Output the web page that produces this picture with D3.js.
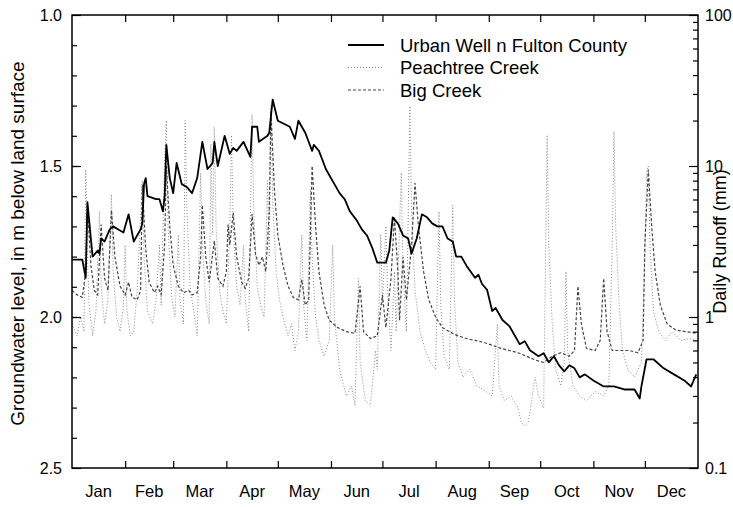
<!DOCTYPE html>
<html>
<head>
<meta charset="utf-8">
<script src="https://cdn.jsdelivr.net/npm/d3@7"></script>
<style>
  body { margin: 0; background: #fff; }
  svg { font-family: "Liberation Sans", Arial, sans-serif; }
</style>
</head>
<body>
<svg width="733" height="507"></svg>
<script>
// months
const months = ['Jan','Feb','Mar','Apr','May','Jun','Jul','Aug','Sep','Oct','Nov','Dec']
const monthStart = [0,31,59,90,120,151,181,212,243,273,304,334,365]

// groundwater level (day of year, m below land surface)
const wellDay = [0,6,8,9,12,15,16,17,19,22,24,27,30,33,36,40,41,42,43,44,49,51,53,54,55,57,59,61,64,67,70,73,76,79,82,83,85,89,92,94,96,100,104,105,108,109,114,115,117,120,127,130,132,136,140,141,144,148,152,156,159,162,166,169,172,175,178,183,185,187,190,193,196,198,201,204,207,210,213,216,219,222,224,227,230,235,237,239,242,245,247,251,255,261,264,267,272,275,278,281,284,287,290,293,296,299,304,310,316,322,328,331,332,335,339,345,351,357,361,364]
const wellLevel = [1.81,1.81,1.87,1.62,1.80,1.78,1.79,1.74,1.75,1.71,1.70,1.71,1.72,1.66,1.75,1.71,1.69,1.56,1.54,1.60,1.61,1.61,1.65,1.60,1.43,1.54,1.59,1.49,1.56,1.57,1.59,1.54,1.42,1.51,1.49,1.42,1.50,1.40,1.46,1.44,1.45,1.42,1.47,1.37,1.37,1.42,1.40,1.39,1.28,1.35,1.37,1.41,1.35,1.39,1.45,1.43,1.45,1.51,1.55,1.59,1.61,1.65,1.68,1.71,1.73,1.77,1.82,1.82,1.78,1.67,1.69,1.73,1.74,1.79,1.74,1.66,1.67,1.69,1.70,1.70,1.74,1.75,1.80,1.80,1.83,1.87,1.86,1.89,1.91,1.98,1.97,2.01,2.03,2.09,2.08,2.11,2.13,2.12,2.15,2.13,2.16,2.18,2.16,2.17,2.20,2.19,2.21,2.23,2.23,2.24,2.24,2.27,2.23,2.14,2.14,2.17,2.19,2.21,2.23,2.19]

// Peachtree Creek daily runoff (mm)
const peachDay = [0,3,5,7,8,9,10,12,14,16,17,19,21,23,24,26,28,30,31,32,34,36,38,41,42,44,47,49,51,52,54,55,56,58,60,62,63,65,66,67,69,71,73,75,76,78,80,81,82,83,84,86,88,90,92,93,94,96,98,100,101,103,105,106,108,110,112,114,115,116,117,119,121,123,126,128,130,132,134,135,137,139,140,142,144,147,150,152,153,156,160,163,165,167,168,171,174,177,178,180,181,183,184,186,188,189,192,193,195,197,198,200,203,206,209,212,214,215,217,220,222,223,225,228,232,236,240,245,248,249,252,256,260,262,264,266,268,270,272,275,277,278,280,282,285,287,288,289,292,296,300,305,310,313,315,316,317,319,321,324,328,332,334,335,336,337,339,342,346,350,355,360,364]
const peachRunoff = [0.9,0.75,1.0,0.8,9.5,2.5,1.2,0.75,1.1,5,1.6,0.9,1.3,6.5,2.0,1.0,0.8,1.2,3,1.1,0.75,0.8,1.5,8,2.5,1.1,0.9,1.3,3,1.2,11,20,4,1.4,1.0,3.5,1.3,0.9,20,5,1.5,1.1,0.75,9,3,1.3,0.9,14,3.5,18,4,1.5,1.1,0.9,4,16,4,1.6,1.2,3,1.3,0.8,22,5,1.6,1.2,1.0,8,2.5,25,6,2,1.3,1.0,0.75,0.9,0.6,0.8,3.5,1.2,0.7,7,2.5,1.0,0.7,0.55,0.7,3,1.0,0.45,0.3,0.35,0.26,1.8,0.5,0.28,0.26,0.6,0.45,3.5,1.2,4,1.5,0.6,2,0.8,9,2,0.8,25,5,1.5,0.8,0.6,0.5,0.45,5,1.2,0.55,0.45,5.5,1.3,0.5,0.4,0.45,0.35,0.33,0.3,0.9,0.35,0.28,0.3,0.25,0.2,0.19,0.2,0.28,0.4,0.3,0.25,16,3,0.9,0.45,0.35,0.5,2,0.6,0.35,0.3,0.28,0.32,0.3,0.35,3,17,4,1.2,0.6,0.45,0.4,0.5,2.5,9,10,3,1.1,0.8,0.7,0.8,0.7,0.72,0.7]

// Big Creek daily runoff (mm)
const bigDay = [0,3,6,8,9,11,13,15,17,19,21,23,25,28,31,33,35,38,40,41,43,45,48,50,52,54,55,57,59,62,65,68,70,73,75,76,78,80,83,85,88,90,91,92,94,96,99,101,103,105,107,109,111,113,115,116,118,120,123,126,129,132,134,136,138,140,142,144,147,150,155,160,165,168,170,174,178,181,183,186,188,190,191,193,195,198,200,202,205,208,212,216,220,225,230,235,240,245,250,255,260,265,270,275,280,285,290,293,295,297,300,305,308,310,312,315,320,325,330,333,334,336,338,340,343,347,352,358,364]
const bigRunoff = [1.5,1.4,1.35,2,5.5,2.2,1.5,1.4,4.1,1.8,1.5,5.1,2.5,1.6,1.4,1.7,1.35,1.3,1.5,7.5,2.8,1.7,1.45,1.6,1.4,3,10,4,2.2,1.6,1.45,1.5,1.4,1.45,2.5,5.5,2.5,1.7,3.2,1.8,1.6,2,4.1,3,4.9,2.5,1.7,1.55,1.8,4.8,2.6,2.2,2.5,2,5,23,7,3.5,2.2,1.6,1.35,1.3,1.77,1.2,1.3,10,4,2,1.2,0.95,0.85,0.8,0.78,1.6,0.8,0.72,0.75,1.4,0.85,1.8,4.6,2,0.95,2.5,1.3,3,7.7,4,2,1.3,1.0,0.85,0.8,0.75,0.72,0.7,0.68,0.65,0.62,0.6,0.58,0.55,0.52,0.5,0.55,0.58,0.55,0.6,1.6,0.9,0.62,0.6,0.7,1.8,0.8,0.6,0.6,0.6,0.58,0.7,3,9.4,4,2,1.2,0.9,0.82,0.8,0.78]

const levelTicks = [1.0, 1.5, 2.0, 2.5]
const runoffTicks = [0.1, 1, 10, 100]

const margin = {top: 15, right: 35, bottom: 39, left: 72}
const width = 733
const height = 507
const iw = width - margin.left - margin.right
const ih = height - margin.top - margin.bottom

const svg = d3.select('svg')
const g = svg.append('g').attr('transform', `translate(${margin.left},${margin.top})`)

const x = d3.scaleLinear().domain([0, 365]).range([0, iw])
const yL = d3.scaleLinear().domain([1.0, 2.5]).range([0, ih])
const yR = d3.scaleLog().domain([0.1, 100]).range([ih, 0])

// series lines
const line = (ys) => d3.line().x(d => x(d[0])).y(d => ys(d[1]))

const peach = d3.zip(peachDay, peachRunoff)
const big = d3.zip(bigDay, bigRunoff)
const well = d3.zip(wellDay, wellLevel)

g.append('path').attr('d', line(yR)(peach))
  .attr('fill', 'none').attr('stroke', '#8a8a8a').attr('stroke-width', 1)
  .attr('stroke-dasharray', '1,2')
g.append('path').attr('d', line(yR)(big))
  .attr('fill', 'none').attr('stroke', '#444').attr('stroke-width', 1.2)
  .attr('stroke-dasharray', '3,2')
g.append('path').attr('d', line(yL)(well))
  .attr('fill', 'none').attr('stroke', '#000').attr('stroke-width', 1.8)
  .attr('stroke-linejoin', 'round')

// frame
g.append('rect').attr('width', iw).attr('height', ih)
  .attr('fill', 'none').attr('stroke', '#000').attr('stroke-width', 1.5)

// left axis
const minorL = d3.range(11, 25).map(v => v / 10)
g.append('g').call(d3.axisLeft(yL).tickValues(minorL).tickSize(-5).tickFormat(''))
g.append('g').call(d3.axisLeft(yL).tickValues(levelTicks).tickSize(-9).tickPadding(10).tickFormat(d3.format('.1f')))

// right axis
const minorR = []
;[0.1, 1, 10].forEach(b => d3.range(2, 10).forEach(k => minorR.push(b * k)))
g.append('g').attr('transform', `translate(${iw},0)`)
  .call(d3.axisRight(yR).tickValues(minorR).tickSize(-5).tickFormat(''))
g.append('g').attr('transform', `translate(${iw},0)`)
  .call(d3.axisRight(yR).tickValues(runoffTicks).tickSize(-9).tickPadding(7).tickFormat(d => d3.format('')(d)))

// month ticks top and bottom
const inner = monthStart.slice(1, 12)
g.append('g').attr('transform', `translate(0,${ih})`)
  .call(d3.axisBottom(x).tickValues(inner).tickSize(-7).tickFormat(''))
g.append('g')
  .call(d3.axisTop(x).tickValues(inner).tickSize(-7).tickFormat(''))

g.selectAll('.domain').remove()
g.selectAll('.tick line').attr('stroke', '#000').attr('stroke-width', 1.2)
g.selectAll('.tick text').attr('font-size', 16).attr('fill', '#000')
  .style('font-family', '"Liberation Sans", Arial, sans-serif')

// month labels
g.append('g').selectAll('text').data(months).join('text')
  .attr('x', (d, i) => x((monthStart[i] + monthStart[i + 1]) / 2))
  .attr('y', ih + 29)
  .attr('text-anchor', 'middle')
  .attr('font-size', 16.5)
  .text(d => d)

// axis titles
svg.append('text')
  .attr('transform', `translate(24,${margin.top + ih / 2 + 2}) rotate(-90)`)
  .attr('text-anchor', 'middle').attr('font-size', 19)
  .text('Groundwater level, in m below land surface')
svg.append('text')
  .attr('transform', `translate(726,${margin.top + ih / 2}) rotate(-90)`)
  .attr('text-anchor', 'middle').attr('font-size', 18)
  .text('Daily Runoff (mm)')

// legend
const legend = [
  {name: 'Urban Well n Fulton County', stroke: '#000', w: 1.8, dash: null},
  {name: 'Peachtree Creek', stroke: '#8a8a8a', w: 1, dash: '1,2'},
  {name: 'Big Creek', stroke: '#444', w: 1.2, dash: '3,2'}
]
const lg = svg.append('g').attr('transform', 'translate(348,45)')
const items = lg.selectAll('g').data(legend).join('g')
  .attr('transform', (d, i) => `translate(0,${i * 22.5})`)
items.append('line').attr('x1', 0).attr('x2', 36)
  .attr('stroke', d => d.stroke).attr('stroke-width', d => d.w)
  .attr('stroke-dasharray', d => d.dash)
items.append('text').attr('x', 52).attr('y', 6.5).attr('font-size', 18.5).text(d => d.name)
</script>
</body>
</html>
